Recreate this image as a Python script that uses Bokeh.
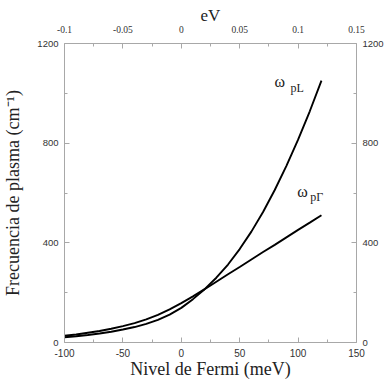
from bokeh.plotting import figure
from bokeh.models import Range1d, LinearAxis, FixedTicker, Label
from bokeh.embed import file_html
from bokeh.resources import INLINE

# ---- data ----
fermi_mev = [-100, -90, -80, -70, -60, -50, -40, -30, -20, -10, 0, 10, 20,
             30, 40, 50, 60, 70, 80, 90, 100, 110, 120]
omega_pL = [21, 25, 30, 36, 43, 52, 62, 75, 91, 112, 139, 174, 214,
            260, 313, 375, 445, 524, 612, 709, 814, 928, 1051]
omega_pG = [27, 32, 39, 46, 55, 66, 78, 93, 111, 133, 158, 185, 214,
            244, 274, 303, 333, 363, 392, 422, 452, 481, 511]

x_ticks = [-100, -50, 0, 50, 100, 150]
x_labels = ["-100", "-50", "0", "50", "100", "150"]
x_minor = [-75, -25, 25, 75, 125]
y_ticks = [0, 400, 800, 1200]
y_minor = [200, 600, 1000]
ev_ticks = [-0.1, -0.05, 0, 0.05, 0.1, 0.15]
ev_labels = ["-0.1", "-0.05", "0", "0.05", "0.1", "0.15"]
ev_minor = [-0.075, -0.025, 0.025, 0.075, 0.125]

SERIF = "Liberation Serif"
SANS = "Liberation Sans"
GRAY = "#a8a8a8"
TXT = "#333333"

p = figure(width=386, height=383, x_range=Range1d(-100, 150), y_range=Range1d(0, 1200),
           output_backend="svg", toolbar_location=None,
           min_border_left=62, min_border_right=27, min_border_top=43, min_border_bottom=41)
p.extra_x_ranges = {"ev": Range1d(-0.1, 0.15)}
p.extra_y_ranges = {"r": Range1d(0, 1200)}
p.xgrid.visible = False
p.ygrid.visible = False
p.outline_line_color = None
p.background_fill_color = "white"
p.border_fill_color = "white"


def style(ax, ticks, minor, font, size, standoff):
    ax.ticker = FixedTicker(ticks=ticks, minor_ticks=minor)
    ax.major_tick_in = 5
    ax.major_tick_out = 0
    ax.minor_tick_in = 3
    ax.minor_tick_out = 0
    ax.axis_line_color = GRAY
    ax.major_tick_line_color = GRAY
    ax.minor_tick_line_color = GRAY
    ax.major_label_text_font = font
    ax.major_label_text_font_size = size
    ax.major_label_text_color = TXT
    ax.major_label_standoff = standoff


def title(ax, text, size, standoff):
    ax.axis_label = text
    ax.axis_label_text_font = SERIF
    ax.axis_label_text_font_size = size
    ax.axis_label_text_font_style = "normal"
    ax.axis_label_text_color = "#222222"
    ax.axis_label_standoff = standoff


bottom = p.xaxis[0]
style(bottom, x_ticks, x_minor, SANS, "10px", 6)
bottom.major_label_overrides = dict(zip(x_ticks, x_labels))
title(bottom, "Nivel de Fermi (meV)", "18px", -1)

left = p.yaxis[0]
style(left, y_ticks, y_minor, SANS, "9.5px", 6)
title(left, "Frecuencia de plasma (cm⁻¹)", "18px", 11)

top = LinearAxis(x_range_name="ev")
style(top, ev_ticks, ev_minor, SERIF, "9.5px", 11)
top.major_label_overrides = dict(zip(ev_ticks, ev_labels))
title(top, "eV", "17px", -2)
p.add_layout(top, "above")

right = LinearAxis(y_range_name="r")
style(right, y_ticks, y_minor, SANS, "9.5px", 6)
p.add_layout(right, "right")

p.line(fermi_mev, omega_pL, line_width=1.9, line_color="black")
p.line(fermi_mev, omega_pG, line_width=1.9, line_color="black")


def lab(x, y, text, size, align="center"):
    p.add_layout(Label(x=x, y=y, text=text, text_font=SERIF, text_font_size=size,
                       text_align=align, text_baseline="middle", text_color="#222222"))


# curve labels
lab(84.3, 1047, "ω", "16px")
lab(93.6, 1023, "pL", "12px", align="left")
lab(103.7, 606, "ω", "16px")
lab(110.4, 582, "pΓ", "12px", align="left")

open("out.html", "w").write(file_html(p, INLINE))
